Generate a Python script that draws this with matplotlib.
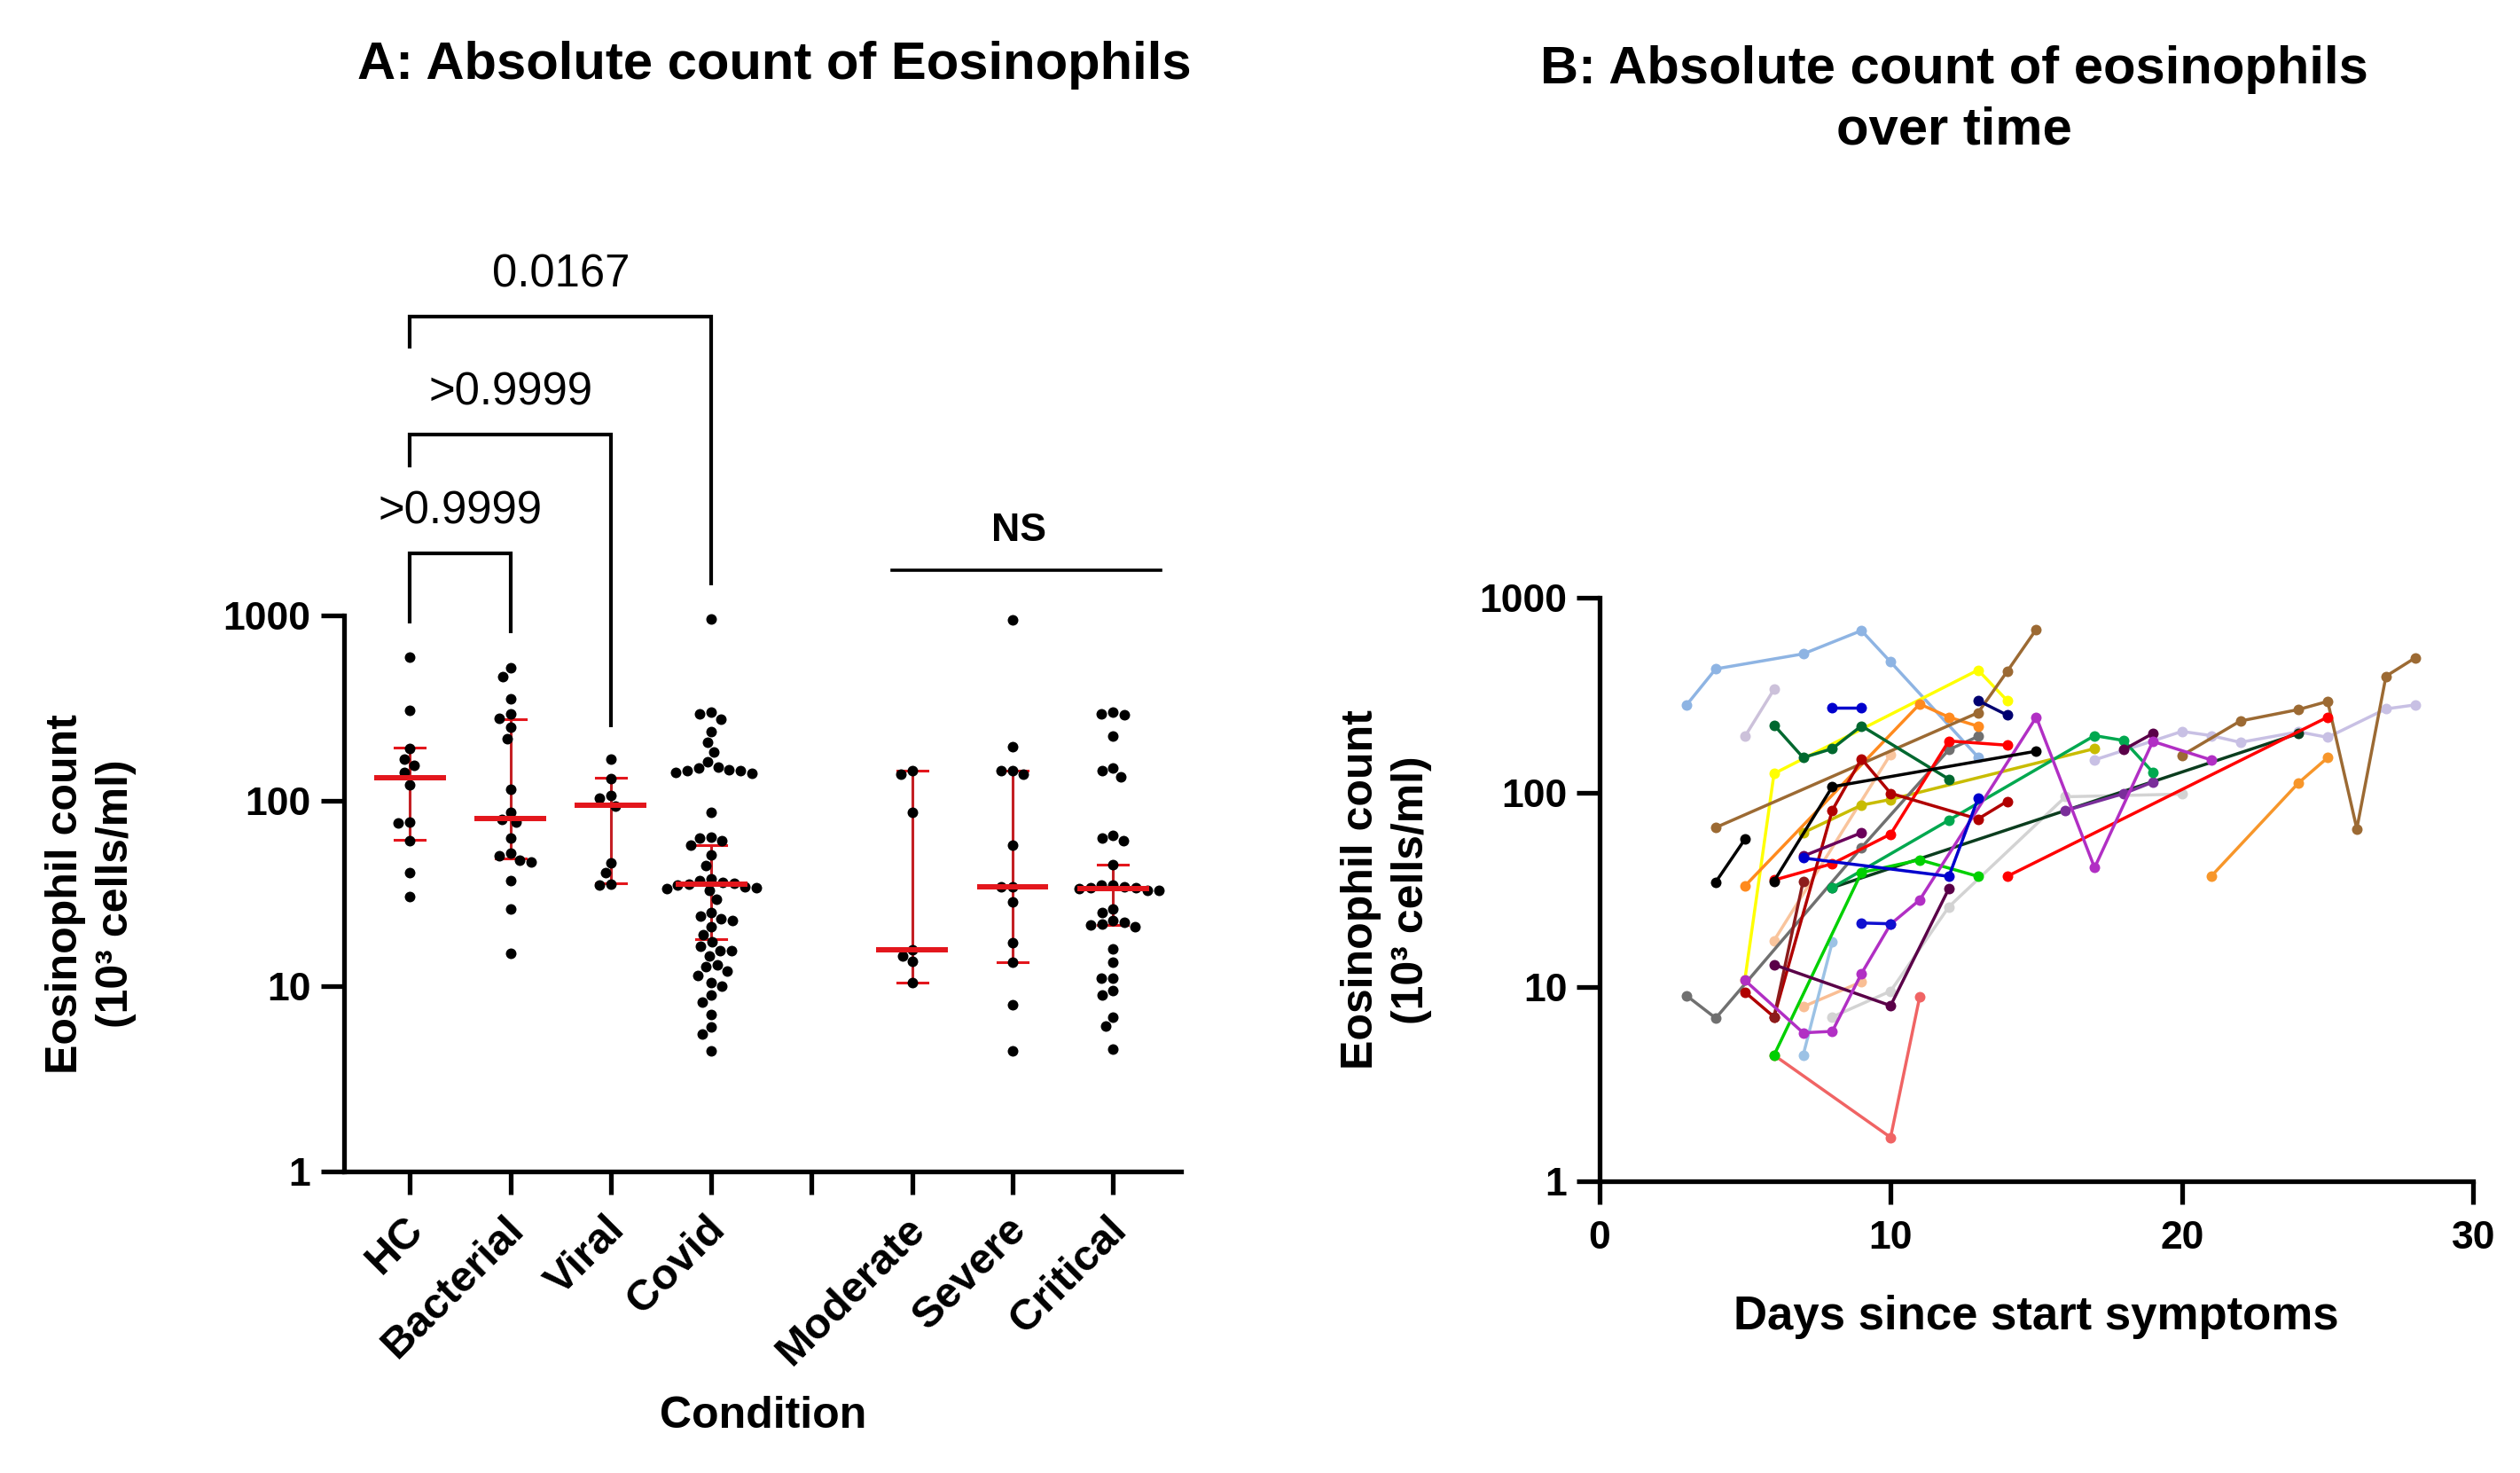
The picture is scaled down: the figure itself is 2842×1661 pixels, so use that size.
import numpy as np
import matplotlib
matplotlib.use('Agg')
import matplotlib.pyplot as plt
from matplotlib.transforms import offset_copy

plt.rcParams['font.family'] = ['Liberation Sans', 'DejaVu Sans']

# ------------------------------------------------------------------
# Panel A data (values in 10^3 cells/ml)
# ------------------------------------------------------------------
categories = ['HC', 'Bacterial', 'Viral', 'Covid', '', 'Moderate', 'Severe', 'Critical']
group_pos = [0, 1, 2, 3, 5, 6, 7]

hc = [596, 308, 191, 168, 155, 143, 122, 77, 76, 61, 41, 30.5]
bacterial = [522, 470, 357, 295, 280, 249, 217, 115, 87, 79, 77, 63, 52, 50.6,
             48, 47, 37, 26, 15]
viral = [168, 132, 107, 104, 94, 46.5, 41, 35.7, 35]
covid = [956, 300, 295, 277, 237, 207, 184, 163, 152, 150, 148, 146, 145, 143,
         141, 87, 64, 63, 61, 58, 51, 45, 38, 37, 36.5, 36, 35.5, 35, 34.5, 34,
         33.5, 33, 29.5, 25, 24, 23, 22.5, 21, 19, 17.3, 16.5, 15.6, 15.6, 14.5,
         13, 12.7, 12, 11.4, 10.5, 10, 9, 8.2, 7, 6, 5.5, 4.5]
moderate = [146, 140, 87, 15.8, 14.6, 13.6, 10.4]
severe = [946, 195, 146, 146, 140, 58, 34.4, 34.4, 28.5, 17.2, 13.4, 7.9, 4.5]
critical = [300, 294, 290, 224, 150, 145, 135, 65, 63, 61, 45.5, 35, 35, 34.5,
            34, 34, 33.5, 33, 33, 26, 25, 22.5, 22, 21.6, 21.5, 21, 15.9, 13.4,
            11, 11, 9.5, 9, 6.8, 6.1, 4.6]
groups = [hc, bacterial, viral, covid, moderate, severe, critical]

medians = [134, 80, 95, 35.5, 15.8, 34.4, 33.8]
q1 = [61.8, 48.7, 35.9, 18, 10.4, 13.4, 21.5]
q3 = [194, 277, 133, 58, 146, 146, 45.5]

bracket_pairs = [(0, 3), (0, 2), (0, 1)]
bracket_labels = ['0.0167', '>0.9999', '>0.9999']
ns_label = 'NS'

# ------------------------------------------------------------------
# Panel B data: days since start of symptoms / eosinophil count
# ------------------------------------------------------------------
days_lightblue = [3, 4, 7, 9, 10, 13]
vals_lightblue = [282, 432, 516, 680, 469, 152]
days_lavender = [5, 6]
vals_lavender = [194, 339]
days_darkgreen = [6, 7, 8, 9, 12]
vals_darkgreen = [222, 151, 168, 220, 117]
days_blue = [8, 9]
vals_blue = [272, 272]
days_black = [4, 5]
vals_black = [34.6, 57.4]
days_brown = [4, 13, 14, 15]
vals_brown = [66, 257, 419, 690]
days_yellow = [5, 6, 13, 14]
vals_yellow = [10.9, 125, 426, 297]
days_olive = [7, 9, 10, 17]
vals_olive = [62, 86, 92, 168]
days_orange = [5, 11, 12, 13]
vals_orange = [33, 285, 244, 219]
days_orange2 = [21, 24, 25]
vals_orange2 = [37, 112, 151]
days_red = [6, 8, 10, 12, 14]
vals_red = [35.4, 43, 61, 184, 175]
days_red2 = [14, 25]
vals_red2 = [37, 244]
days_darkred = [5, 6, 8, 9, 10, 13, 14]
vals_darkred = [9.4, 7.0, 81, 149, 99, 73, 90]
days_darkred2 = [6, 7]
vals_darkred2 = [7.0, 35]
days_peach = [6, 10]
vals_peach = [17.3, 157]
days_peach2 = [7, 9]
vals_peach2 = [7.9, 10.6]
days_grey = [3, 4, 9, 12, 13]
vals_grey = [9.0, 6.9, 52, 166, 194]
days_brightgreen = [6, 9, 11, 13]
vals_brightgreen = [4.45, 38.7, 45, 37]
days_medgreen = [8, 12, 17, 18, 19]
vals_medgreen = [32.4, 72, 196, 185, 127]
days_dkgreen_long = [8, 24]
vals_dkgreen_long = [32.4, 201]
days_purple = [16, 18, 19]
vals_purple = [80.6, 98.6, 113]
days_navy = [13, 14]
vals_navy = [297, 250]
days_black_long = [6, 8, 15]
vals_black_long = [35, 107, 163]
days_blue_med = [7, 12, 13]
vals_blue_med = [46, 37, 93]
days_plum = [6, 10, 12]
vals_plum = [13, 8.0, 32]
days_plum2 = [7, 9]
vals_plum2 = [47, 62]
days_plum3 = [18, 19]
vals_plum3 = [166, 201]
days_magenta = [5, 7, 8, 9, 10, 11, 15, 17, 19, 21]
vals_magenta = [10.8, 5.8, 5.9, 11.7, 21, 28, 244, 41, 183, 147]
days_lightgrey = [8, 10, 12, 16, 20]
vals_lightgrey = [7.0, 9.5, 25.8, 95, 98]
days_lavender2 = [17, 20, 21, 22, 24, 25, 27, 28]
vals_lavender2 = [147, 206, 196, 181, 205, 192, 269, 282]
days_brown2 = [20, 22, 24, 25, 26, 27, 28]
vals_brown2 = [155, 233, 267, 294, 65, 396, 492]
days_lightblue2 = [7, 8]
vals_lightblue2 = [4.45, 17]
days_salmon = [6, 10, 11]
vals_salmon = [4.45, 1.68, 8.9]
days_blue2 = [9, 10]
vals_blue2 = [21.3, 21.1]

series_b = [
    (days_lightgrey, vals_lightgrey, '#D3D3D3'),
    (days_lavender2, vals_lavender2, '#C8C0E4'),
    (days_lavender, vals_lavender, '#CCC1DA'),
    (days_peach, vals_peach, '#F9C49C'),
    (days_peach2, vals_peach2, '#F9BE94'),
    (days_lightblue, vals_lightblue, '#8EB4E3'),
    (days_lightblue2, vals_lightblue2, '#9CC2E5'),
    (days_yellow, vals_yellow, '#FFFF00'),
    (days_olive, vals_olive, '#C8BC00'),
    (days_salmon, vals_salmon, '#F06464'),
    (days_grey, vals_grey, '#707070'),
    (days_dkgreen_long, vals_dkgreen_long, '#0B3D1E'),
    (days_purple, vals_purple, '#7A2E9A'),
    (days_medgreen, vals_medgreen, '#00A84F'),
    (days_brightgreen, vals_brightgreen, '#00D000'),
    (days_orange, vals_orange, '#FF8A1E'),
    (days_orange2, vals_orange2, '#F7962A'),
    (days_brown, vals_brown, '#9C6A33'),
    (days_brown2, vals_brown2, '#9C6A33'),
    (days_darkgreen, vals_darkgreen, '#00682F'),
    (days_red, vals_red, '#FF0000'),
    (days_red2, vals_red2, '#FF0000'),
    (days_darkred, vals_darkred, '#B00000'),
    (days_darkred2, vals_darkred2, '#8C1C1C'),
    (days_plum, vals_plum, '#5A0048'),
    (days_plum2, vals_plum2, '#6A005A'),
    (days_plum3, vals_plum3, '#5A0048'),
    (days_magenta, vals_magenta, '#B12FC4'),
    (days_blue, vals_blue, '#0000CD'),
    (days_blue_med, vals_blue_med, '#0000CD'),
    (days_blue2, vals_blue2, '#1010D0'),
    (days_navy, vals_navy, '#000070'),
    (days_black, vals_black, '#000000'),
    (days_black_long, vals_black_long, '#000000'),
]

# ------------------------------------------------------------------
W, H = 2842, 1661
fig = plt.figure(figsize=(W / 100, H / 100), dpi=100)

SPINE_W = 3.8
TICK_LEN = 19
TICK_FS = 32
LABEL_FS = 36


def style_axis(ax):
    for s in ['top', 'right']:
        ax.spines[s].set_visible(False)
    for s in ['left', 'bottom']:
        ax.spines[s].set_linewidth(SPINE_W)
    ax.tick_params(which='major', length=TICK_LEN, width=SPINE_W,
                   labelsize=TICK_FS)
    ax.tick_params(which='minor', length=0)
    for lab in ax.get_xticklabels() + ax.get_yticklabels():
        lab.set_fontweight('bold')


# ---------------- Panel A ----------------
axA = fig.add_axes([0.1365, 0.2047, 0.4688 - 0.1365, 0.5821 - 0.2047])
axA.set_yscale('log')
axA.set_ylim(1, 1000)
axA.set_xlim(-0.656, 7.68)
axA.set_yticks([1, 10, 100, 1000])
axA.set_yticklabels(['1', '10', '100', '1000'])
axA.set_xticks(range(len(categories)))
axA.set_xticklabels([''] * len(categories))
style_axis(axA)
axA.tick_params(axis='y', pad=8)

# rotated category labels, placed below each tick
lab_trans = offset_copy(axA.get_xaxis_transform(), fig=fig, x=6, y=-42,
                        units='points')
for i, name in enumerate(categories):
    axA.text(i, 0, name, transform=lab_trans, rotation=45, ha='right',
             va='center', rotation_mode='anchor', fontsize=35,
             fontweight='bold', clip_on=False)


def swarm(ax, xc, vals, d_px):
    """Beeswarm: place points so that markers do not overlap (pixel space)."""
    vals = np.asarray(vals, float)
    pts = ax.transData.transform(np.column_stack([np.full(len(vals), xc), vals]))
    x0 = pts[0, 0]
    ys = pts[:, 1]
    order = np.argsort(-vals)
    placed_x, placed_y = [], []
    xs = np.zeros(len(vals))
    for i in order:
        y = ys[i]
        cands = [0.0]
        for px, py in zip(placed_x, placed_y):
            dy = abs(py - y)
            if dy < d_px:
                dx = np.sqrt(d_px ** 2 - dy ** 2)
                cands += [px + dx + 0.01, px - dx - 0.01]
        cands = sorted(cands, key=lambda c: (abs(c), c))
        for c in cands:
            ok = True
            for px, py in zip(placed_x, placed_y):
                if (px - c) ** 2 + (py - y) ** 2 < d_px ** 2 - 1e-6:
                    ok = False
                    break
            if ok:
                xs[i] = c
                break
        placed_x.append(xs[i])
        placed_y.append(y)
    inv = ax.transData.inverted()
    out = inv.transform(np.column_stack([x0 + xs, ys]))
    return out[:, 0]


RED = '#E3161C'
for gx, vals, med, lo, hi in zip(group_pos, groups, medians, q1, q3):
    xs = swarm(axA, gx, vals, 13.0)
    axA.plot([gx, gx], [lo, hi], color='#C41F24', lw=2.2, zorder=2)
    axA.plot([gx - 0.15, gx + 0.15], [lo, lo], color=RED, lw=2.2, zorder=2)
    axA.plot([gx - 0.15, gx + 0.15], [hi, hi], color=RED, lw=2.2, zorder=2)
    axA.plot(xs, vals, 'o', color='black', ms=8.6, mew=0, zorder=3,
             clip_on=False)
    axA.plot([gx - 0.33, gx + 0.33], [med, med], color=RED, lw=4.3, zorder=4)

# significance brackets (drawn above the axis area)
bracket_top = [41200, 9480, 2170]
bracket_left_end = [27500, 6320, 906]
bracket_right_end = [1460, 249, 803]
bracket_text_y = [69000, 15850, 3650]
for (a, b), lab, top, le, re, ty in zip(bracket_pairs, bracket_labels,
                                        bracket_top, bracket_left_end,
                                        bracket_right_end, bracket_text_y):
    axA.plot([a, a, b, b], [le, top, top, re], color='black', lw=3.0,
             clip_on=False, solid_joinstyle='miter', solid_capstyle='butt')
    axA.text((a + b) / 2, ty, lab, ha='center', va='center', fontsize=36.5,
             clip_on=False)

axA.plot([4.8, 7.47], [1750, 1750], color='black', lw=2.6, clip_on=False)
axA.text(6.06, 2880, ns_label, ha='center', va='center', fontsize=32,
         fontweight='bold', clip_on=False)

fig.text(0.3074, 0.9555, 'A: Absolute count of Eosinophils', ha='center',
         va='center', fontsize=43, fontweight='bold')
fig.text(0.303, 0.0385, 'Condition', ha='center', va='center',
         fontsize=LABEL_FS, fontweight='bold')
fig.text(0.036, 0.3934, 'Eosinophil count\n(10³ cells/ml)', ha='center',
         va='center', rotation=90, fontsize=LABEL_FS, fontweight='bold',
         linespacing=1.3)

# ---------------- Panel B ----------------
axB = fig.add_axes([0.6346, 0.1981, 0.9815 - 0.6346, 0.5940 - 0.1981])
axB.set_yscale('log')
axB.set_ylim(1, 1000)
axB.set_xlim(0, 30)
axB.set_yticks([1, 10, 100, 1000])
axB.set_yticklabels(['1', '10', '100', '1000'])
axB.set_xticks([0, 10, 20, 30])
style_axis(axB)
axB.tick_params(axis='y', pad=7)
axB.tick_params(axis='x', pad=13)

for d, v, c in series_b:
    axB.plot(d, v, '-o', color=c, lw=2.5, ms=8.6, mew=0, clip_on=False)

fig.text(0.7755, 0.9323, 'B: Absolute count of eosinophils\nover time',
         ha='center', va='center', fontsize=43, fontweight='bold',
         linespacing=1.32)
fig.text(0.808, 0.1060, 'Days since start symptoms', ha='center',
         va='center', fontsize=38, fontweight='bold')
fig.text(0.550, 0.396, 'Eosinophil count\n(10³ cells/ml)', ha='center',
         va='center', rotation=90, fontsize=LABEL_FS, fontweight='bold',
         linespacing=1.3)

fig.savefig('out.png', dpi=100, facecolor='white')
